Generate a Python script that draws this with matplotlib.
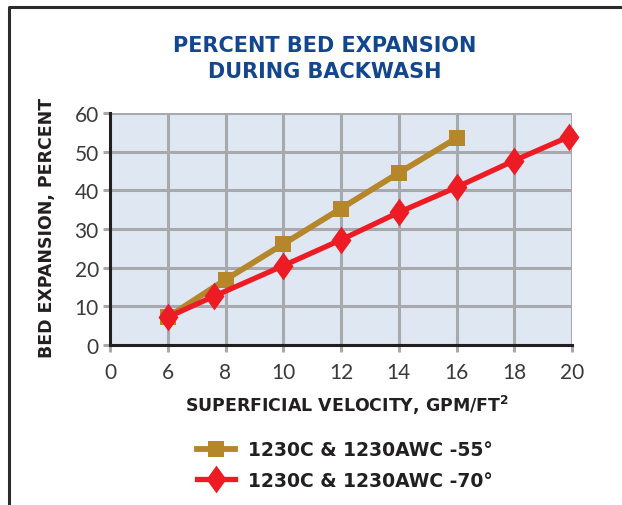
import matplotlib
matplotlib.use("Agg")
import matplotlib.pyplot as plt
import numpy as np
from matplotlib.lines import Line2D
from matplotlib.path import Path

# ---- data ----
tick_values = [0, 6, 8, 10, 12, 14, 16, 18, 20]
tick_labels = ["0", "6", "8", "10", "12", "14", "16", "18", "20"]
y_ticks = [0, 10, 20, 30, 40, 50, 60]

gold_x = [6, 8, 10, 12, 14, 16]
gold_y = [7.2, 16.9, 26.1, 35.3, 44.5, 53.5]
gold_label = "1230C & 1230AWC -55°"

red_x = [6, 7.6, 10, 12, 14, 16, 18, 19.9]
red_y = [7.2, 12.6, 20.5, 27.2, 34.3, 40.8, 47.7, 53.9]
red_label = "1230C & 1230AWC -70°"

title = "PERCENT BED EXPANSION\nDURING BACKWASH"
xlabel = "SUPERFICIAL VELOCITY, GPM/FT$^\\mathbf{2}$"
ylabel = "BED EXPANSION, PERCENT"

# ---- style ----
GOLD = "#b5862a"
RED = "#ed1c24"
GRID = "#a7a9ac"
BG = "#dfe7f3"
TITLE_C = "#12468f"
TXT = "#231f20"


def fwd(v):
    v = np.asarray(v, dtype=float)
    return np.where(v < 6, v / 6.0, (v - 4) / 2.0)


def inv(p):
    p = np.asarray(p, dtype=float)
    return np.where(p < 1, p * 6.0, p * 2.0 + 4)


fig = plt.figure(figsize=(6.22, 5.06), dpi=100)
W, H = 622, 506
ax = fig.add_axes([110 / W, 1 - 346 / H, (572 - 110) / W, (346 - 114) / H])
ax.set_facecolor(BG)
ax.set_xscale("function", functions=(fwd, inv))
ax.set_xlim(0, 20)
ax.set_ylim(0, 60)
ax.set_xticks(tick_values)
ax.set_xticklabels(tick_labels)
ax.set_yticks(y_ticks)
ax.xaxis.set_minor_locator(matplotlib.ticker.NullLocator())

ax.grid(True, color=GRID, linewidth=2.2, zorder=0)
ax.set_axisbelow(True)
for s in ["top", "right"]:
    ax.spines[s].set_visible(False)
for s in ["left", "bottom"]:
    ax.spines[s].set_color(TXT)
    ax.spines[s].set_linewidth(2.2)
    ax.spines[s].set_zorder(5)

ax.tick_params(axis="both", which="major", direction="out", length=5, width=2.2,
               color=GRID, labelsize=15, labelcolor="#3a3a3a")
ax.tick_params(axis="x", pad=7)
ax.tick_params(axis="y", pad=3)
for t in (ax.xaxis.get_major_ticks()[0], ax.yaxis.get_major_ticks()[0]):
    t.tick1line.set_color(TXT)
for lab in ax.get_xticklabels() + ax.get_yticklabels():
    lab.set_family("Lato")
    lab.set_fontweight("normal")

diamond = Path([(0, 1), (0.72, 0), (0, -1), (-0.72, 0), (0, 1)],
               [Path.MOVETO, Path.LINETO, Path.LINETO, Path.LINETO, Path.CLOSEPOLY])

ax.plot(gold_x, gold_y, color=GOLD, linewidth=4.2, marker="s", markersize=12,
        markeredgewidth=0, clip_on=False, zorder=3)
ax.plot(red_x, red_y, color=RED, linewidth=3.8, marker=diamond, markersize=20,
        markeredgewidth=0, clip_on=False, zorder=4)

fig.text(325 / W, 1 - 59 / H, title, ha="center", va="center", color=TITLE_C,
         fontsize=15, fontweight="bold", family="Liberation Sans Narrow",
         linespacing=1.35)

fig.text(47 / W, 1 - 228 / H, ylabel, rotation=90, ha="center", va="center",
         color=TXT, fontsize=12.5, fontweight="heavy", family="DejaVu Sans")
fig.text(347 / W, 1 - 405 / H, xlabel, ha="center", va="center",
         color=TXT, fontsize=12.5, fontweight="heavy", family="DejaVu Sans")

# legend
handles = [Line2D([], [], color=GOLD, linewidth=4.2, marker="s", markersize=12,
                  markeredgewidth=0),
           Line2D([], [], color=RED, linewidth=3.8, marker=diamond, markersize=20,
                  markeredgewidth=0)]
leg = fig.legend(handles, [gold_label, red_label], loc="center left",
                 bbox_to_anchor=(197 / W, 1 - 466 / H), frameon=False,
                 borderpad=0, borderaxespad=0,
                 handlelength=2.0, handletextpad=0.7, labelspacing=0.6,
                 prop={"family": "DejaVu Sans", "weight": "heavy", "size": 13.5})
for t in leg.get_texts():
    t.set_color(TXT)

# figure frame (left and top)
fig.add_artist(Line2D([9 / W, 9 / W, 1.0], [0.0, 1 - 8 / H, 1 - 8 / H],
                      transform=fig.transFigure, color="#2b2b2b", linewidth=2.2))

fig.savefig("out.png", dpi=100, facecolor="white")
